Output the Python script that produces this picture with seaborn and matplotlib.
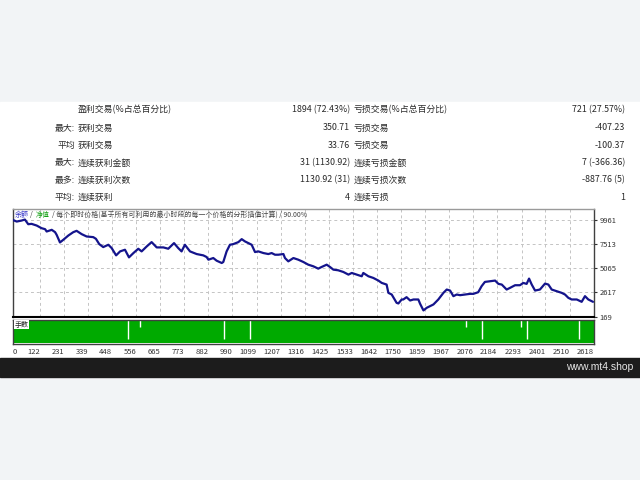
import matplotlib
matplotlib.use("Agg")
import matplotlib.pyplot as plt
from matplotlib.patches import Rectangle
import seaborn as sns
import pandas as pd

# 报告表格
row_prefix = ["", "最大:", "平均", "最大:", "最多:", "平均:"]
win_labels = ["盈利交易(%占总百分比)", "获利交易", "获利交易", "连续获利金额", "连续获利次数", "连续获利"]
win_values = ["1894 (72.43%)", "350.71", "33.76", "31 (1130.92)", "1130.92 (31)", "4"]
loss_labels = ["亏损交易(%占总百分比)", "亏损交易", "亏损交易", "连续亏损金额", "连续亏损次数", "连续亏损"]
loss_values = ["721 (27.57%)", "-407.23", "-100.37", "7 (-366.36)", "-887.76 (5)", "1"]

# 余额曲线
trade_no = [0, 18, 40, 55, 70, 85, 108, 130, 146, 153, 176, 191, 198, 213, 228, 251, 273, 288,
            311, 333, 363, 375, 390, 408, 431, 446, 466, 484, 506, 524, 544, 566, 581, 604, 626,
            649, 679, 701, 727, 746, 761, 776, 799, 829, 859, 874, 882, 904, 919, 942, 949, 964,
            979, 994, 1017, 1032, 1047, 1062, 1077, 1092, 1107, 1130, 1152, 1167, 1182, 1197,
            1220, 1227, 1242, 1265, 1287, 1310, 1332, 1355, 1377, 1392, 1415, 1430, 1445, 1467,
            1490, 1513, 1528, 1550, 1573, 1580, 1603, 1625, 1648, 1663, 1685, 1693, 1708, 1730,
            1738, 1753, 1760, 1775, 1791, 1806, 1828, 1836, 1851, 1866, 1881, 1896, 1918, 1941,
            1956, 1971, 1986, 2001, 2016, 2038, 2061, 2076, 2098, 2113, 2128, 2151, 2174, 2189,
            2204, 2226, 2241, 2264, 2286, 2301, 2316, 2327, 2339, 2354, 2376, 2399, 2414, 2429,
            2451, 2474, 2489, 2504, 2519, 2542, 2564, 2579, 2594, 2615]
balance = [9950, 9782, 9883, 9984, 9514, 9548, 9380, 9112, 9012, 8777, 8945, 8710, 8442, 7671,
           7939, 8375, 8710, 8844, 8509, 8275, 8208, 8040, 7504, 7202, 7437, 7102, 6364, 6767,
           6934, 6163, 6599, 7035, 6767, 7269, 7705, 7169, 7169, 7035, 7604, 7102, 6767, 7437,
           6767, 6499, 6364, 6197, 5929, 6096, 5828, 5594, 5694, 6767, 7437, 7504, 7705, 8006,
           7772, 7604, 7437, 6700, 6767, 6599, 6499, 6599, 6431, 6431, 6499, 6096, 5761, 6096,
           5929, 5694, 5426, 5259, 5024, 5192, 5426, 5192, 4924, 4857, 4689, 4421, 4588, 4421,
           4253, 4588, 4253, 4086, 3818, 3583, 3416, 2578, 2410, 1573, 1506, 1908, 1908, 2142,
           1807, 1908, 1908, 1472, 802, 1070, 1237, 1405, 1908, 2578, 2913, 2812, 2243, 2410,
           2343, 2410, 2477, 2477, 2645, 3248, 3684, 3751, 3818, 3483, 3416, 2913, 3080, 3349,
           3349, 3583, 3483, 4019, 3416, 2812, 2913, 3516, 3416, 2913, 2745, 2578, 2410, 2075,
           1908, 1908, 1673, 2243, 1908, 1673]

# 手数
base_lot = 0.10
dip_trades = [521, 574, 954, 1069, 2043, 2116, 2289, 2319, 2553]
dip_lots = [0.02, 0.07, 0.02, 0.02, 0.07, 0.02, 0.07, 0.02, 0.02]

x_ticks = [0, 122, 231, 339, 448, 556, 665, 773, 882, 990, 1099, 1207, 1316, 1425, 1533,
           1642, 1750, 1859, 1967, 2076, 2184, 2293, 2401, 2510, 2618]
y_ticks = [169, 2617, 5065, 7513, 9961]

W, H = 640, 480


def fx(x):
    return x / W


def fy(y):
    return 1 - y / H


sns.set_theme(style="white")
plt.rcParams["font.family"] = ["Noto Sans CJK SC", "DejaVu Sans"]

fig = plt.figure(figsize=(6.4, 4.8), dpi=100, facecolor="#f2f4f6")
fig.add_artist(Rectangle((0, fy(358)), 1, (358 - 102) / H, transform=fig.transFigure,
                         color="white", zorder=-5))
fig.add_artist(Rectangle((0, fy(377)), 1, 19 / H, transform=fig.transFigure,
                         color="#1c1c1c", zorder=-5))

txt = "#2a2a2a"
rows_y = [110, 128, 145.5, 163, 180, 197]
for i, y in enumerate(rows_y):
    kw = dict(va="center", fontsize=6.4, color=txt)
    fig.text(fx(75), fy(y), row_prefix[i], ha="right", **kw)
    fig.text(fx(78), fy(y), win_labels[i], ha="left", **kw)
    fig.text(fx(350), fy(y), win_values[i], ha="right", **kw)
    fig.text(fx(354), fy(y), loss_labels[i], ha="left", **kw)
    fig.text(fx(625), fy(y), loss_values[i], ha="right", **kw)

left, right = 12.7, 594.3
ax = fig.add_axes([fx(left), fy(316.7), (right - left) / W, (316.7 - 209) / H])
ax2 = fig.add_axes([fx(left), fy(343.5), (right - left) / W, (343.5 - 319.5) / H])

df = pd.DataFrame({"trade": trade_no, "balance": balance})
sns.lineplot(data=df, x="trade", y="balance", ax=ax, color="#14148c",
             linewidth=1.6, estimator=None, zorder=3)
ax.set_xlim(0, 2621)
ax.set_ylim(169, 11050)
ax.set_xticks(x_ticks)
ax.set_yticks(y_ticks)
ax.set_yticklabels([str(v) for v in y_ticks])
ax.yaxis.tick_right()
ax.tick_params(axis="x", length=0, labelbottom=False)
ax.tick_params(axis="y", length=2.5, width=0.8, pad=1.5, labelsize=5.5,
               colors="#333333", direction="out")
ax.grid(True, color="#c4c4c4", linestyle=(0, (3, 3)), linewidth=0.7)
ax.set_xlabel("")
ax.set_ylabel("")
for side, sp in ax.spines.items():
    sp.set_color("#404040")
    sp.set_linewidth(1.0)
ax.spines["bottom"].set_color("#000000")
ax.spines["bottom"].set_linewidth(1.5)
ax.spines["top"].set_color("#9a9a9a")

# 图例文字
lg_y = fy(215)
fig.text(fx(14.5), lg_y, "余额", color="#3535c8", fontsize=5, va="center")
fig.text(fx(30.3), lg_y, "/", color="#444444", fontsize=5, va="center")
fig.text(fx(35.5), lg_y, "净值", color="#13a013", fontsize=5, va="center")
fig.text(fx(51.5), lg_y,
         "/ 每个即时价格(基于所有可利用的最小时段的每一个价格的分形插值计算) / 90.00%",
         color="#444444", fontsize=5, va="center")

# 手数面板
ax2.fill_between([0, 2621], 0, base_lot, color="#00aa00", linewidth=0)
ax2.vlines(dip_trades, dip_lots, base_lot, color="white", linewidth=1.0)
ax2.set_xlim(0, 2621)
ax2.set_ylim(0, base_lot)
ax2.set_yticks([])
ax2.set_xticks(x_ticks)
ax2.set_xticklabels([str(v) for v in x_ticks])
ax2.tick_params(axis="x", length=2, width=0.8, pad=1.5, labelsize=5.5,
                colors="#333333", direction="out")
for i, lbl in enumerate(ax2.get_xticklabels()):
    lbl.set_ha("left" if i == 0 else "right")
for sp in ax2.spines.values():
    sp.set_color("#404040")
    sp.set_linewidth(1.0)
ax2.text(0.003, 0.78, "手数", transform=ax2.transAxes, fontsize=5, color="#222222",
         va="center", bbox=dict(facecolor="white", edgecolor="none", pad=0.5))

fig.text(fx(633), fy(367.5), "www.mt4.shop", color="#e6e6e6", ha="right", va="center",
         fontsize=7.5, family="Liberation Sans")

fig.savefig("out.png", dpi=100, facecolor=fig.get_facecolor())
